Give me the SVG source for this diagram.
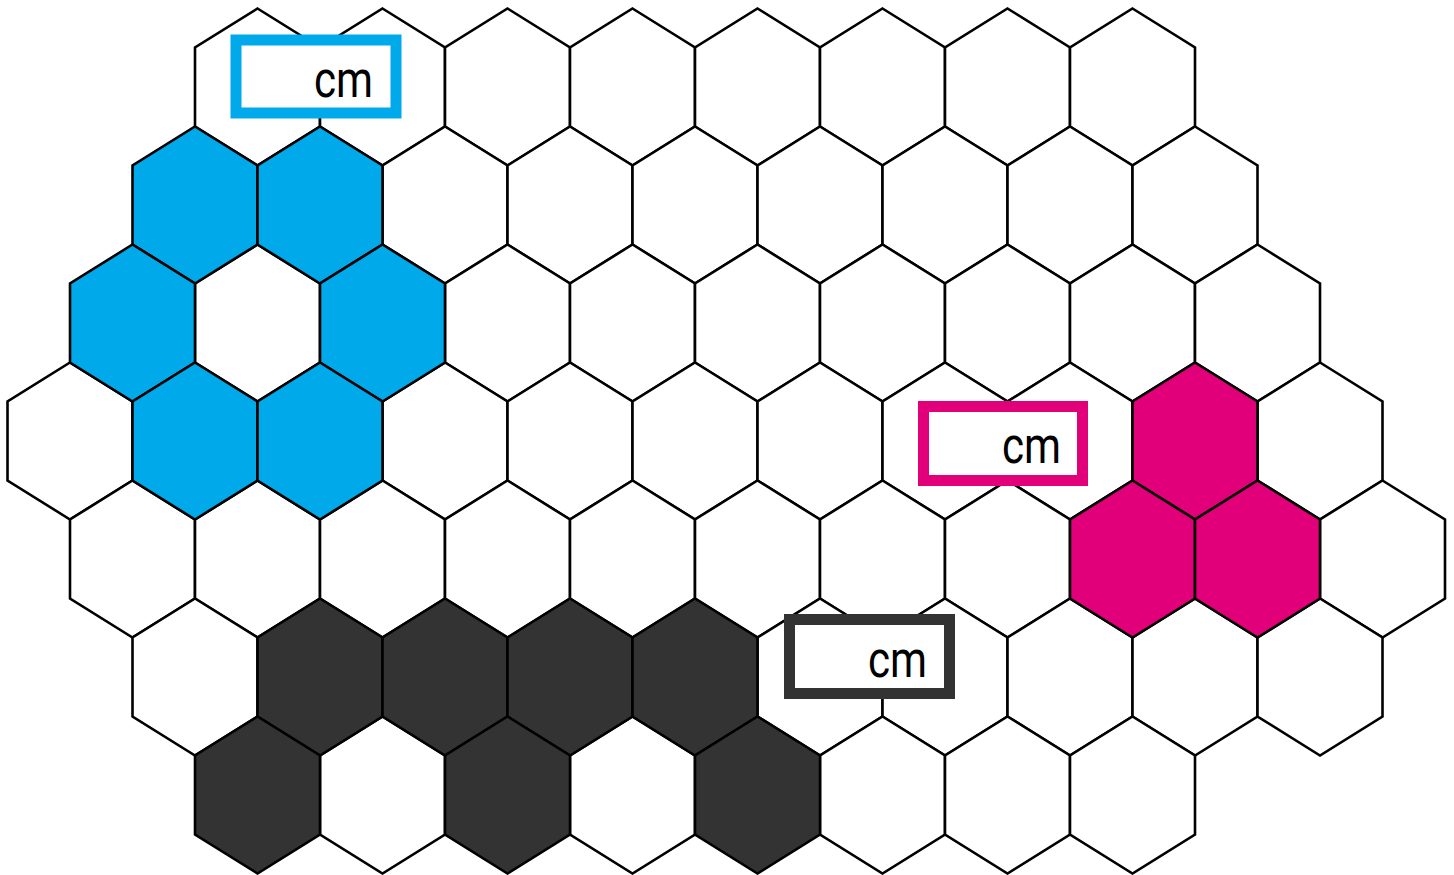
<svg xmlns="http://www.w3.org/2000/svg" width="1454" height="875" viewBox="0 0 1454 875">
<style>
.h{fill:#ffffff;stroke:#000000;stroke-width:2.6;stroke-linejoin:miter}
.b{fill:#00A9EA}
.p{fill:#E2007A}
.d{fill:#333333}
.box{fill:#ffffff;stroke-width:11}
.t{font-family:Roboto,"Liberation Sans",sans-serif;font-size:52px;fill:#000000;text-anchor:end}
</style>
<defs>
<polygon id="hex" points="0,-78.5 62.5,-39.5 62.5,39.5 0,78.5 -62.5,39.5 -62.5,-39.5"/>
</defs>
<rect width="1454" height="875" fill="#ffffff"/>
<g id="grid">
<!-- row 0 -->
<g id="h0-0"><use href="#hex" class="h" x="257.5" y="87"/></g>
<g id="h0-1"><use href="#hex" class="h" x="382.5" y="87"/></g>
<g id="h0-2"><use href="#hex" class="h" x="507.5" y="87"/></g>
<g id="h0-3"><use href="#hex" class="h" x="632.5" y="87"/></g>
<g id="h0-4"><use href="#hex" class="h" x="757.5" y="87"/></g>
<g id="h0-5"><use href="#hex" class="h" x="882.5" y="87"/></g>
<g id="h0-6"><use href="#hex" class="h" x="1007.5" y="87"/></g>
<g id="h0-7"><use href="#hex" class="h" x="1132.5" y="87"/></g>
<!-- row 1 -->
<g id="h1-2"><use href="#hex" class="h" x="445" y="205"/></g>
<g id="h1-3"><use href="#hex" class="h" x="570" y="205"/></g>
<g id="h1-4"><use href="#hex" class="h" x="695" y="205"/></g>
<g id="h1-5"><use href="#hex" class="h" x="820" y="205"/></g>
<g id="h1-6"><use href="#hex" class="h" x="945" y="205"/></g>
<g id="h1-7"><use href="#hex" class="h" x="1070" y="205"/></g>
<g id="h1-8"><use href="#hex" class="h" x="1195" y="205"/></g>
<!-- row 2 -->
<g id="h2-1"><use href="#hex" class="h" x="257.5" y="323"/></g>
<g id="h2-3"><use href="#hex" class="h" x="507.5" y="323"/></g>
<g id="h2-4"><use href="#hex" class="h" x="632.5" y="323"/></g>
<g id="h2-5"><use href="#hex" class="h" x="757.5" y="323"/></g>
<g id="h2-6"><use href="#hex" class="h" x="882.5" y="323"/></g>
<g id="h2-7"><use href="#hex" class="h" x="1007.5" y="323"/></g>
<g id="h2-8"><use href="#hex" class="h" x="1132.5" y="323"/></g>
<g id="h2-9"><use href="#hex" class="h" x="1257.5" y="323"/></g>
<!-- row 3 -->
<g id="h3-0"><use href="#hex" class="h" x="70" y="441"/></g>
<g id="h3-3"><use href="#hex" class="h" x="445" y="441"/></g>
<g id="h3-4"><use href="#hex" class="h" x="570" y="441"/></g>
<g id="h3-5"><use href="#hex" class="h" x="695" y="441"/></g>
<g id="h3-6"><use href="#hex" class="h" x="820" y="441"/></g>
<g id="h3-7"><use href="#hex" class="h" x="945" y="441"/></g>
<g id="h3-8"><use href="#hex" class="h" x="1070" y="441"/></g>
<g id="h3-10"><use href="#hex" class="h" x="1320" y="441"/></g>
<!-- row 4 -->
<g id="h4-0"><use href="#hex" class="h" x="132.5" y="559"/></g>
<g id="h4-1"><use href="#hex" class="h" x="257.5" y="559"/></g>
<g id="h4-2"><use href="#hex" class="h" x="382.5" y="559"/></g>
<g id="h4-3"><use href="#hex" class="h" x="507.5" y="559"/></g>
<g id="h4-4"><use href="#hex" class="h" x="632.5" y="559"/></g>
<g id="h4-5"><use href="#hex" class="h" x="757.5" y="559"/></g>
<g id="h4-6"><use href="#hex" class="h" x="882.5" y="559"/></g>
<g id="h4-7"><use href="#hex" class="h" x="1007.5" y="559"/></g>
<g id="h4-10"><use href="#hex" class="h" x="1382.5" y="559"/></g>
<!-- row 5 -->
<g id="h5-0"><use href="#hex" class="h" x="195" y="677"/></g>
<g id="h5-5"><use href="#hex" class="h" x="820" y="677"/></g>
<g id="h5-6"><use href="#hex" class="h" x="945" y="677"/></g>
<g id="h5-7"><use href="#hex" class="h" x="1070" y="677"/></g>
<g id="h5-8"><use href="#hex" class="h" x="1195" y="677"/></g>
<g id="h5-9"><use href="#hex" class="h" x="1320" y="677"/></g>
<!-- row 6 -->
<g id="h6-1"><use href="#hex" class="h" x="382.5" y="795"/></g>
<g id="h6-3"><use href="#hex" class="h" x="632.5" y="795"/></g>
<g id="h6-5"><use href="#hex" class="h" x="882.5" y="795"/></g>
<g id="h6-6"><use href="#hex" class="h" x="1007.5" y="795"/></g>
<g id="h6-7"><use href="#hex" class="h" x="1132.5" y="795"/></g>
<!-- blue -->
<g id="h1-0"><use href="#hex" class="h b" x="195" y="205"/></g>
<g id="h1-1"><use href="#hex" class="h b" x="320" y="205"/></g>
<g id="h2-0"><use href="#hex" class="h b" x="132.5" y="323"/></g>
<g id="h2-2"><use href="#hex" class="h b" x="382.5" y="323"/></g>
<g id="h3-1"><use href="#hex" class="h b" x="195" y="441"/></g>
<g id="h3-2"><use href="#hex" class="h b" x="320" y="441"/></g>
<!-- pink -->
<g id="h3-9"><use href="#hex" class="h p" x="1195" y="441"/></g>
<g id="h4-8"><use href="#hex" class="h p" x="1132.5" y="559"/></g>
<g id="h4-9"><use href="#hex" class="h p" x="1257.5" y="559"/></g>
<!-- dark -->
<g id="h5-1"><use href="#hex" class="h d" x="320" y="677"/></g>
<g id="h5-2"><use href="#hex" class="h d" x="445" y="677"/></g>
<g id="h5-3"><use href="#hex" class="h d" x="570" y="677"/></g>
<g id="h5-4"><use href="#hex" class="h d" x="695" y="677"/></g>
<g id="h6-0"><use href="#hex" class="h d" x="257.5" y="795"/></g>
<g id="h6-2"><use href="#hex" class="h d" x="507.5" y="795"/></g>
<g id="h6-4"><use href="#hex" class="h d" x="757.5" y="795"/></g>
</g>
<g id="label-blue">
<rect class="box" x="236" y="40" width="160" height="73" stroke="#00A9EA"/>
<text class="t" x="373" y="97" textLength="59" lengthAdjust="spacingAndGlyphs">cm</text>
</g>
<g id="label-pink">
<rect class="box" x="923.5" y="406.5" width="159" height="74" stroke="#E2007A"/>
<text class="t" x="1061" y="463" textLength="59" lengthAdjust="spacingAndGlyphs">cm</text>
</g>
<g id="label-dark">
<rect class="box" x="789.5" y="619.5" width="160" height="74" stroke="#333333"/>
<text class="t" x="927" y="677" textLength="59" lengthAdjust="spacingAndGlyphs">cm</text>
</g>
</svg>
